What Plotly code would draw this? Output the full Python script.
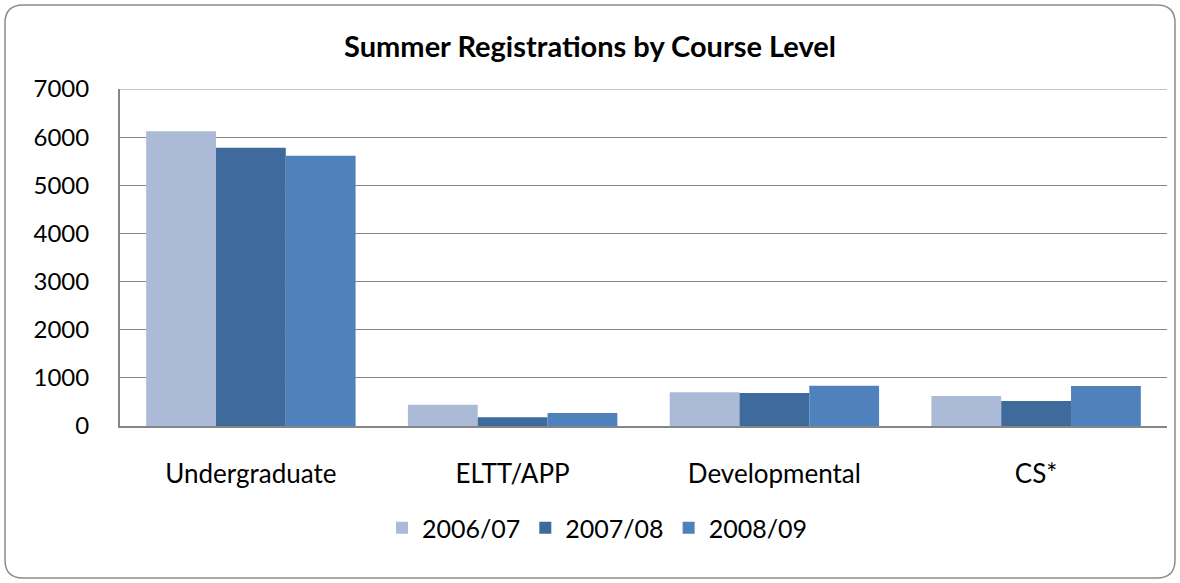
import plotly.graph_objects as go

categories = ["Undergraduate", "ELTT/APP", "Developmental", "CS*"]
series_names = ["2006/07", "2007/08", "2008/09"]
vals_2006 = [6120, 443, 700, 624]
vals_2007 = [5780, 180, 686, 520]
vals_2008 = [5613, 270, 838, 832]
y_ticks = [0, 1000, 2000, 3000, 4000, 5000, 6000, 7000]

colors = ["#AABAD7", "#3F6A9C", "#4F81BD"]
FONT = "Lato, 'Open Sans', sans-serif"

fig = go.Figure()
for name, vals, c in zip(series_names, [vals_2006, vals_2007, vals_2008], colors):
    fig.add_trace(go.Bar(x=categories, y=vals, name=name, marker=dict(color=c, line=dict(width=0))))

L, R, T, B = 120, 13, 89, 157
W, H = 1180, 583
pw, ph = W - L - R, H - T - B

def px(x):
    return (x - L) / pw

def py(y):
    return (H - B - y) / ph

# rounded border
x0, x1, y0, y1 = 5, 1175, 5, 578
r = 18
rx, ry = r / pw, r / ph
path = (f"M {px(x0)+rx},{py(y0)} L {px(x1)-rx},{py(y0)} Q {px(x1)},{py(y0)} {px(x1)},{py(y0)-ry} "
        f"L {px(x1)},{py(y1)+ry} Q {px(x1)},{py(y1)} {px(x1)-rx},{py(y1)} "
        f"L {px(x0)+rx},{py(y1)} Q {px(x0)},{py(y1)} {px(x0)},{py(y1)+ry} "
        f"L {px(x0)},{py(y0)-ry} Q {px(x0)},{py(y0)} {px(x0)+rx},{py(y0)} Z")

fig.update_layout(
    width=W, height=H,
    margin=dict(l=L, r=R, t=T, b=B),
    paper_bgcolor="white", plot_bgcolor="white",
    barmode="group", bargap=0.2, bargroupgap=0,
    font=dict(family=FONT, size=24, color="black"),
    title=dict(text="<b>Summer Registrations by Course Level</b>", x=0.5, xref="container",
               y=1 - 47 / H, yanchor="middle", font=dict(family=FONT, size=29, color="black")),
    legend=dict(orientation="h", x=px(597), xanchor="center", y=py(528), yanchor="middle",
                font=dict(family=FONT, size=25), itemwidth=30, traceorder="normal"),
    shapes=[dict(type="path", path=path, xref="paper", yref="paper",
                 line=dict(color="#8C8C8C", width=1.5), fillcolor="rgba(0,0,0,0)", layer="below"),
            dict(type="line", xref="paper", yref="y", x0=0, x1=1, y0=y_ticks[-1], y1=y_ticks[-1],
                 line=dict(color="#868686", width=1), layer="below")],
)
fig.update_xaxes(showline=True, linecolor="#868686", linewidth=2, ticks="outside", ticklen=24,
                 tickcolor="rgba(0,0,0,0)", showgrid=False, tickfont=dict(size=26))
fig.update_yaxes(range=[0, 7000], tickvals=y_ticks, showline=True, linecolor="#868686", linewidth=2,
                 showgrid=True, gridcolor="#868686", gridwidth=1, ticks="outside", ticklen=24,
                 tickcolor="rgba(0,0,0,0)", zeroline=False, tickfont=dict(size=24))

fig.write_html("out.html", config={"displayModeBar": False},
               post_script="document.body.style.margin='0';document.body.style.overflow='hidden';")
